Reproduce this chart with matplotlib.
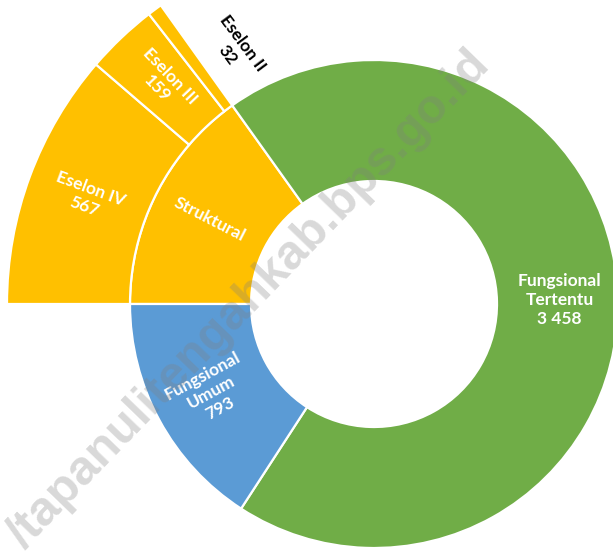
import matplotlib
matplotlib.use("Agg")
import matplotlib.pyplot as plt
import numpy as np

# ---- data ----
inner_labels = ["Struktural", "Fungsional\nTertentu", "Fungsional\nUmum"]
inner_values = [758, 3458, 793]
inner_show_value = [False, True, True]
inner_colors = ["#FFC000", "#70AD47", "#5B9BD5"]

outer_labels = ["Eselon IV", "Eselon III", "Eselon II"]
outer_values = [567, 159, 32]
outer_colors = ["#FFC000", "#FFC000", "#FFC000"]

watermark = "/tapanulitengahkab.bps.go.id"


def fmt(v):
    return f"{v:,}".replace(",", " ")


W, H = 613, 551
fig = plt.figure(figsize=(W / 100, H / 100), dpi=100)
ax = fig.add_axes([0, 0, 1, 1])

cx, cy = 374, H - 304
R_in, r_hole, R_out = 244, 123, 367

lw = 1.6
inner_w, _ = ax.pie(inner_values, radius=R_in, center=(cx, cy), startangle=180,
                    counterclock=False, colors=inner_colors,
                    wedgeprops=dict(width=R_in - r_hole, edgecolor="white", linewidth=lw))

rest = sum(inner_values) - sum(outer_values)
outer_w, _ = ax.pie(outer_values + [rest], radius=R_out, center=(cx, cy), startangle=180,
                    counterclock=False, colors=outer_colors + ["none"],
                    wedgeprops=dict(width=R_out - R_in, edgecolor="white", linewidth=lw))
outer_w[-1].set_visible(False)

ax.set_xlim(0, W)
ax.set_ylim(0, H)
ax.set_aspect("equal")
ax.axis("off")

font = dict(family=["Lato", "DejaVu Sans"], fontweight="bold", fontsize=12.5,
            ha="center", va="center", linespacing=1.2)

# inner labels
r_mid_in = (R_in + r_hole) / 2 + 2
for w, lab, val, show in zip(inner_w, inner_labels, inner_values, inner_show_value):
    mid = ((w.theta1 + w.theta2) / 2) % 360
    rad = np.deg2rad(mid)
    x = cx + r_mid_in * np.cos(rad)
    y = cy + r_mid_in * np.sin(rad)
    rot = mid - 180
    if rot < -90:
        rot = 0
    txt = lab + ("\n" + fmt(val) if show else "")
    ax.text(x, y, txt, color="white", rotation=rot, rotation_mode="anchor", **font)

# outer labels
r_mid_out = (R_out + R_in) / 2
for i, (w, lab, val) in enumerate(zip(outer_w[:-1], outer_labels, outer_values)):
    mid = ((w.theta1 + w.theta2) / 2) % 360
    ang = mid
    r = r_mid_out
    col = "white"
    if i == 2:  # tiny slice: label placed just outside
        ang = mid - 8
        r = r_mid_out - 15
        col = "black"
    rad = np.deg2rad(ang)
    x = cx + r * np.cos(rad)
    y = cy + r * np.sin(rad)
    ax.text(x, y, lab + "\n" + fmt(val), color=col, rotation=mid - 180,
            rotation_mode="anchor", **font)

# watermark
ax.text(482, H - 58, watermark, rotation=46, rotation_mode="anchor", ha="right",
        va="center", fontsize=35, fontweight="bold", color="#808080", alpha=0.3,
        family=["Liberation Sans", "DejaVu Sans"])

fig.savefig("out.png", dpi=100)
